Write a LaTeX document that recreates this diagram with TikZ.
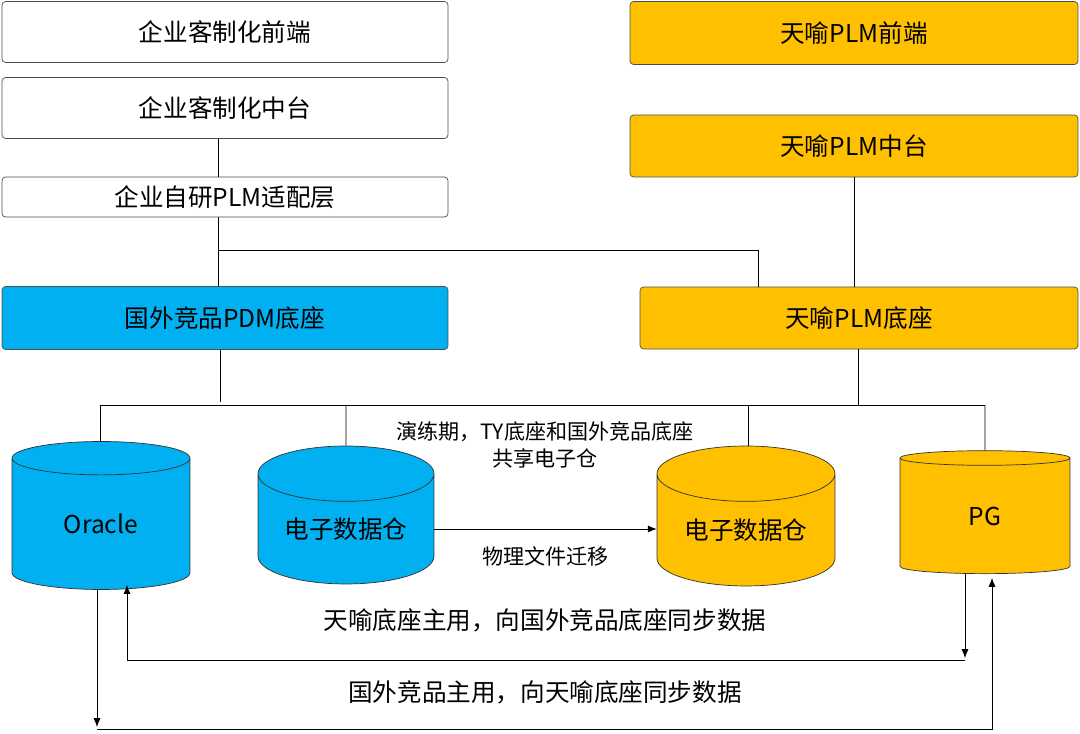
\documentclass[tikz,border=0pt]{standalone}
\usepackage{fontspec}
\setmainfont{Noto Sans CJK SC}
\usetikzlibrary{shapes.geometric,arrows.meta}
\definecolor{tyblue}{RGB}{0,176,240}
\definecolor{tyorange}{RGB}{255,192,0}
\begin{document}
\begin{tikzpicture}[x=0.02cm,y=-0.02cm,thin,>={Latex[length=5pt,width=4pt]},
box/.style={draw=black!70,rectangle,rounded corners=2pt,inner sep=0pt,font=\fontsize{14}{16}\selectfont},
db/.style={draw=black!80,cylinder,shape border rotate=90,aspect=0.45,inner sep=0pt,font=\fontsize{14}{16}\selectfont},
note/.style={inner sep=0pt,font=\fontsize{12}{15}\selectfont}]
\useasboundingbox (0,0) rectangle (1080,734);
\node[box,fill=white,minimum width=8.92cm,minimum height=1.22cm] (qdfront) at (225,32) {企业客制化前端};
\node[box,fill=white,minimum width=8.92cm,minimum height=1.22cm] (qdmid) at (225,108) {企业客制化中台};
\node[box,fill=white,minimum width=8.92cm,minimum height=0.8cm] (adapt) at (225,197) {企业自研PLM适配层};
\node[box,fill=tyblue,minimum width=8.92cm,minimum height=1.26cm] (pdm) at (225,318) {国外竞品PDM底座};
\node[box,fill=tyorange,minimum width=8.96cm,minimum height=1.26cm] (tyfront) at (854,33) {天喻PLM前端};
\node[box,fill=tyorange,minimum width=8.96cm,minimum height=1.24cm] (tymid) at (854,146) {天喻PLM中台};
\node[box,fill=tyorange,minimum width=8.76cm,minimum height=1.24cm] (tybase) at (859,318) {天喻PLM底座};
% 数据库
\node[db,fill=tyblue,minimum width=3.56cm,minimum height=2.96cm] (oracle) at (101,524) {Oracle};
\node[db,fill=tyblue,minimum width=3.52cm,minimum height=2.76cm] (dwblue) at (346,529) {电子数据仓};
\node[db,fill=tyorange,minimum width=3.56cm,minimum height=2.8cm] (dworange) at (746,530) {电子数据仓};
\node[db,fill=tyorange,minimum width=3.4cm,minimum height=2.46cm] (pg) at (985,516) {PG};
% 连线
\coordinate (jl) at (218,250);
\coordinate (bus) at (100,405);
\draw (qdmid.south -| jl) -- (adapt.north -| jl);
\draw (adapt.south -| jl) -- (pdm.north -| jl);
\draw (jl) -| (758,287);
\draw (tymid) -- (tybase.north -| tymid);
\draw (pdm.south -| 220,0) -- (220,402);
\draw (tybase.south -| 858,0) -- (858,405);
\draw (bus) -- (985,405);
\draw (bus) -- (oracle.north -| bus);
\draw (346,405) -- (dwblue.north);
\draw (748,405) -- (dworange.north -| 748,0);
\draw (985,405) -- (pg.north);
\node[note,align=center] (drill) at (545,445) {演练期，TY底座和国外竞品底座\\共享电子仓};
\draw[->] (dwblue.east) -- (dworange.west |- dwblue.east) node[note,midway,below=10pt] (move) {物理文件迁移};
\coordinate (s1a) at (965,658);
\coordinate (s1b) at (127,660);
\draw[->] (pg.south -| s1a) -- (s1a);
\draw[->] (965,660) -- (s1b) -- (127,585);
\node[note,font=\fontsize{14}{16}\selectfont] (sync1) at (545,620) {天喻底座主用，向国外竞品底座同步数据};
\coordinate (s2a) at (97,727);
\draw[->] (97,590) -- (s2a);
\draw[->] (97,729) -- (992,729) -- (992,578);
\node[note,font=\fontsize{14}{16}\selectfont] (sync2) at (545,692) {国外竞品主用，向天喻底座同步数据};
\end{tikzpicture}
\end{document}
